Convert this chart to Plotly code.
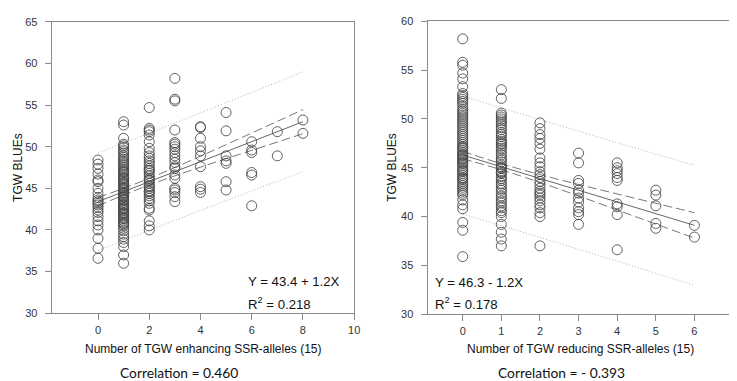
import plotly.graph_objects as go

# ---------------- data ----------------
# Left panel: TGW BLUEs by number of TGW enhancing SSR-alleles
enh_0 = [48.4, 47.9, 47.4, 46.7, 46.0, 45.8, 45.0, 44.4, 43.9, 43.6, 43.4, 43.2, 43.0,
         42.7, 42.4, 42.1, 41.6, 41.1, 40.6, 40.0, 39.0, 37.8, 36.6]
enh_1 = [53.0, 52.6, 51.0, 50.3, 50.1, 49.9, 49.6, 49.4, 49.2, 48.9, 48.7, 48.5, 48.3,
         48.1, 47.9, 47.7, 47.5, 47.3, 47.1, 46.9, 46.7, 46.5, 46.3, 46.1, 45.9, 45.7,
         45.5, 45.3, 45.1, 44.9, 44.7, 44.5, 44.3, 44.1, 43.9, 43.7, 43.5, 43.3, 43.1,
         42.9, 42.7, 42.5, 42.3, 42.1, 41.9, 41.7, 41.5, 41.3, 41.1, 40.9, 40.7, 40.5,
         40.2, 39.9, 39.5, 39.2, 38.9, 38.5, 38.0, 37.0, 36.0,
         47.0, 46.2, 45.6, 45.0, 44.4, 44.0, 43.6, 43.0, 42.6, 42.0, 41.4, 40.8]
enh_2 = [54.7, 52.2, 52.0, 51.8, 51.4, 50.6, 49.8, 49.3, 48.9, 48.6, 48.3, 48.0, 47.7,
         47.4, 47.1, 46.8, 46.5, 46.2, 45.9, 45.6, 45.3, 45.0, 44.7, 44.4, 44.1, 43.8,
         43.5, 43.2, 42.6, 42.4, 41.1, 40.5, 40.0, 47.2, 46.0, 45.2, 44.6]
enh_3 = [58.2, 55.7, 55.5, 52.0, 50.5, 50.3, 50.0, 49.7, 49.3, 48.9, 48.5, 48.1, 47.6,
         47.4, 46.6, 46.2, 45.0, 44.8, 44.5, 44.0, 43.4]
enh_4 = [52.4, 52.3, 51.0, 50.0, 49.5, 48.9, 47.6, 45.2, 44.9, 44.5]
enh_5 = [54.1, 51.9, 48.9, 48.3, 48.0, 45.8, 44.8]
enh_6 = [50.6, 49.6, 49.3, 46.9, 46.6, 42.9]
enh_7 = [51.8, 48.9]
enh_8 = [53.2, 51.6]
enh_groups = [enh_0, enh_1, enh_2, enh_3, enh_4, enh_5, enh_6, enh_7, enh_8]

# Right panel: TGW BLUEs by number of TGW reducing SSR-alleles
red_0 = [58.2, 55.8, 55.5, 54.7, 54.1, 53.3, 52.6, 52.4, 52.2, 52.0, 51.8, 51.6, 51.3,
         51.0, 50.8, 50.6, 50.4, 50.2, 50.0, 49.8, 49.6, 49.4, 49.2, 49.0, 48.8, 48.6,
         48.4, 48.2, 48.0, 47.8, 47.6, 47.4, 47.2, 47.0, 46.8, 46.6, 46.4, 46.2, 46.0,
         45.8, 45.6, 45.4, 45.2, 45.0, 44.8, 44.6, 44.4, 44.2, 44.0, 43.8, 43.6, 43.4,
         43.2, 43.0, 42.8, 42.6, 42.4, 42.2, 41.7, 41.2, 40.8, 39.4, 38.6, 35.9,
         47.1, 46.3, 45.5, 44.7, 43.9, 45.9]
red_1 = [53.0, 52.1, 50.6, 50.4, 50.2, 50.0, 49.8, 49.6, 49.4, 49.1, 48.9, 48.6, 48.4,
         48.2, 47.9, 47.7, 47.5, 47.2, 47.0, 46.8, 46.5, 46.3, 46.0, 45.8, 45.6, 45.3,
         45.1, 44.9, 44.6, 44.4, 44.1, 43.9, 43.7, 43.4, 43.2, 42.9, 42.7, 42.4, 42.1,
         41.9, 41.6, 41.4, 41.1, 40.9, 40.6, 40.4, 40.0, 39.2, 38.4, 37.7, 37.0,
         45.0, 44.5, 47.4]
red_2 = [49.6, 49.0, 48.4, 48.0, 47.5, 46.9, 46.0, 45.5, 45.1, 44.6, 44.3, 44.0, 43.6,
         43.3, 42.9, 42.6, 42.4, 42.2, 41.9, 41.6, 41.2, 40.9, 40.4, 40.0, 37.0]
red_3 = [46.5, 45.5, 43.7, 43.4, 42.7, 42.4, 41.9, 41.5, 40.9, 40.5, 40.2, 39.2]
red_4 = [45.5, 45.0, 44.7, 44.4, 44.0, 43.7, 41.3, 41.0, 40.2, 36.6]
red_5 = [42.7, 42.2, 41.1, 39.3, 38.8]
red_6 = [39.1, 37.9]
red_groups = [red_0, red_1, red_2, red_3, red_4, red_5, red_6]

# Regression results
enh_intercept, enh_slope = 43.4, 1.2
red_intercept, red_slope = 46.3, -1.2
enh_r2, red_r2 = 0.218, 0.178
enh_corr, red_corr = "0.460", "- 0.393"

# Band half-widths at x = 0..max
enh_band_x = [0, 1, 2, 3, 4, 5, 6, 7, 8]
enh_ci_hw = [0.50, 0.40, 0.40, 0.50, 0.66, 0.84, 1.04, 1.24, 1.45]
enh_pi_hw = [5.85, 5.84, 5.84, 5.85, 5.86, 5.88, 5.91, 5.95, 6.00]
red_band_x = [0, 1, 2, 3, 4, 5, 6]
red_ci_hw = [0.38, 0.31, 0.40, 0.59, 0.82, 1.06, 1.30]
red_pi_hw = [6.05, 6.03, 6.03, 6.05, 6.07, 6.10, 6.15]

# Text
y_title = "TGW BLUEs"
enh_x_title = "Number of TGW enhancing SSR-alleles (15)"
red_x_title = "Number of TGW reducing SSR-alleles (15)"

# ---------------- figure ----------------
W, H = 737, 381
def px(x):
    return x / W
def py(y):
    return 1 - y / H

fig = go.Figure()

marker = dict(symbol="circle-open", size=10, color="rgba(70,70,70,0.85)",
              line=dict(width=1, color="rgba(70,70,70,0.85)"))

def add_panel(groups, intercept, slope, band_x, ci_hw, pi_hw, xa, ya):
    xs, ys = [], []
    for k, g in enumerate(groups):
        xs += [k] * len(g)
        ys += g
    fit = [intercept + slope * x for x in band_x]
    # prediction band (dotted)
    for sgn in (1, -1):
        fig.add_trace(go.Scatter(x=band_x, y=[f + sgn * h for f, h in zip(fit, pi_hw)],
                                 mode="lines", line=dict(color="#b0b0b0", width=1, dash="1px,2px", shape="spline"),
                                 xaxis=xa, yaxis=ya, hoverinfo="skip"))
    # confidence band (dashed)
    for sgn in (1, -1):
        fig.add_trace(go.Scatter(x=band_x, y=[f + sgn * h for f, h in zip(fit, ci_hw)],
                                 mode="lines", line=dict(color="#777777", width=1, dash="9px,4px", shape="spline"),
                                 xaxis=xa, yaxis=ya, hoverinfo="skip"))
    fig.add_trace(go.Scatter(x=band_x, y=fit, mode="lines",
                             line=dict(color="#666666", width=1),
                             xaxis=xa, yaxis=ya, hoverinfo="skip"))
    fig.add_trace(go.Scatter(x=xs, y=ys, mode="markers", marker=marker,
                             xaxis=xa, yaxis=ya))

add_panel(enh_groups, enh_intercept, enh_slope, enh_band_x, enh_ci_hw, enh_pi_hw, "x", "y")
add_panel(red_groups, red_intercept, red_slope, red_band_x, red_ci_hw, red_pi_hw, "x2", "y2")

axis_common = dict(showline=True, mirror=True, linecolor="#8a8a8a", linewidth=1,
                   ticks="outside", ticklen=6, tickcolor="#8a8a8a", tickwidth=1,
                   showgrid=False, zeroline=False,
                   tickfont=dict(family="Liberation Sans, Arial", size=11, color="#333333"))

fig.update_layout(
    width=W, height=H, margin=dict(l=0, r=0, t=0, b=0),
    paper_bgcolor="white", plot_bgcolor="white", showlegend=False,
    xaxis=dict(domain=[px(44), px(349)], range=[-1.81, 10], tickvals=[0, 2, 4, 6, 8, 10],
               anchor="y", ticklabelstandoff=1, **axis_common),
    yaxis=dict(domain=[py(309), py(8)], range=[30, 65], tickvals=[30, 35, 40, 45, 50, 55, 60, 65],
               anchor="x", ticklabelstandoff=5, **axis_common),
    xaxis2=dict(domain=[px(423), px(731)], range=[-0.91, 7], tickvals=[0, 1, 2, 3, 4, 5, 6, 7],
                anchor="y2", ticklabelstandoff=1, **axis_common),
    yaxis2=dict(domain=[py(310), py(7.5)], range=[30, 60], tickvals=[30, 35, 40, 45, 50, 55, 60],
                anchor="x2", ticklabelstandoff=5, **axis_common),
)

txt = dict(family="Liberation Sans, Arial", color="#111111")
corr_font = dict(family="Lato, Carlito, Calibri", size=13.8, color="#111111")

def note(x, y, text, size=None, font=None, xanchor="center", angle=0):
    return dict(x=px(x), y=py(y), text=text, showarrow=False, textangle=angle,
                xref="paper", yref="paper", xanchor=xanchor, yanchor="middle",
                font=font if font else dict(size=size, **txt))

ann = [
    note(10, 158, y_title, 12, angle=-90),
    note(387, 158, y_title, 12, angle=-90),
    note(197, 346, enh_x_title, 12),
    note(577, 346, red_x_title, 12),
    note(240, 276, f"Y = {enh_intercept} + {enh_slope}X", 13.2, xanchor="left"),
    note(240, 299, f"R<sup>2</sup> = {enh_r2}", 13.2, xanchor="left"),
    note(428, 277, f"Y = {red_intercept} - {abs(red_slope)}X", 13.2, xanchor="left"),
    note(428, 299, f"R<sup>2</sup> = {red_r2}", 13.2, xanchor="left"),
    note(172, 370, f"Correlation = {enh_corr}", font=corr_font),
    note(558, 370, f"Correlation = {red_corr}", font=corr_font),
]
fig.update_layout(annotations=ann)

fig.write_html("out.html")
